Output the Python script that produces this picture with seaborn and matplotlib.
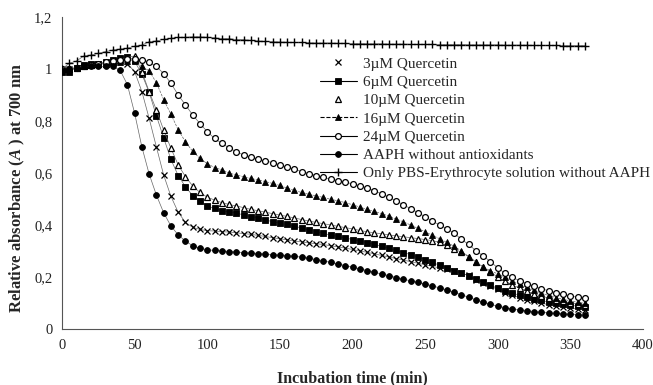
import numpy as np
import pandas as pd
import matplotlib
matplotlib.use("Agg")
import matplotlib.pyplot as plt
from matplotlib.lines import Line2D
import seaborn as sns

# ---------------- data ----------------
time_min = list(range(0, 361, 5))

aaph = [1.00, 1.00, 1.005, 1.01, 1.01, 1.01, 1.01, 1.01, 0.995, 0.94,
        0.83, 0.70, 0.596, 0.515, 0.447, 0.396, 0.362, 0.338, 0.32, 0.31,
        0.305, 0.302, 0.30, 0.298, 0.296, 0.294, 0.292, 0.29, 0.288, 0.286,
        0.284, 0.282, 0.28, 0.276, 0.272, 0.267, 0.262, 0.256, 0.25, 0.244,
        0.238, 0.231, 0.225, 0.218, 0.212, 0.205, 0.198, 0.192, 0.185, 0.179,
        0.173, 0.166, 0.158, 0.15, 0.141, 0.132, 0.122, 0.112, 0.103, 0.095,
        0.088, 0.082, 0.077, 0.073, 0.07, 0.067, 0.064, 0.062, 0.06, 0.058,
        0.056, 0.055, 0.054]

q3 = [1.00, 1.00, 1.005, 1.01, 1.015, 1.02, 1.02, 1.025, 1.03, 1.02,
      0.99, 0.913, 0.81, 0.70, 0.592, 0.51, 0.449, 0.41, 0.391, 0.383,
      0.378, 0.377, 0.374, 0.373, 0.37, 0.367, 0.364, 0.36, 0.356, 0.351,
      0.347, 0.343, 0.338, 0.335, 0.331, 0.328, 0.325, 0.32, 0.316, 0.311,
      0.306, 0.30, 0.295, 0.289, 0.283, 0.277, 0.271, 0.265, 0.259, 0.253,
      0.247, 0.241, 0.235, 0.229, 0.222, 0.214, 0.206, 0.19, 0.178, 0.165,
      0.152, 0.14, 0.13, 0.121, 0.113, 0.106, 0.099, 0.094, 0.089, 0.085,
      0.081, 0.078, 0.075]

q6 = [0.99, 0.99, 1.005, 1.015, 1.018, 1.02, 1.026, 1.035, 1.044, 1.048,
      1.03, 0.98, 0.91, 0.82, 0.735, 0.652, 0.59, 0.547, 0.513, 0.492,
      0.473, 0.464, 0.455, 0.451, 0.447, 0.438, 0.432, 0.428, 0.419, 0.413,
      0.406, 0.402, 0.396, 0.388, 0.381, 0.374, 0.368, 0.361, 0.356, 0.35,
      0.344, 0.338, 0.332, 0.325, 0.318, 0.31, 0.302, 0.294, 0.286, 0.277,
      0.267, 0.256, 0.245, 0.234, 0.224, 0.215, 0.205, 0.192, 0.18, 0.168,
      0.157, 0.147, 0.138, 0.13, 0.123, 0.116, 0.11, 0.104, 0.099, 0.095,
      0.091, 0.088, 0.085]

q10 = [1.00, 1.00, 1.005, 1.01, 1.015, 1.02, 1.025, 1.03, 1.035, 1.045,
       1.05, 0.99, 0.913, 0.842, 0.765, 0.695, 0.631, 0.586, 0.55, 0.525,
       0.507, 0.496, 0.486, 0.479, 0.473, 0.467, 0.46, 0.455, 0.449, 0.444,
       0.438, 0.433, 0.427, 0.421, 0.415, 0.41, 0.405, 0.40, 0.395, 0.39,
       0.385, 0.379, 0.374, 0.37, 0.366, 0.362, 0.358, 0.355, 0.351, 0.348,
       0.344, 0.34, 0.333, 0.322, 0.308, 0.295, 0.278, 0.258, 0.238, 0.218,
       0.20, 0.184, 0.17, 0.157, 0.146, 0.136, 0.127, 0.119, 0.112, 0.106,
       0.101, 0.097, 0.094]

q16 = [1.00, 1.00, 1.005, 1.01, 1.015, 1.02, 1.02, 1.025, 1.025, 1.03,
       1.035, 1.01, 0.993, 0.947, 0.882, 0.826, 0.766, 0.72, 0.683, 0.656,
       0.636, 0.621, 0.612, 0.60, 0.592, 0.586, 0.579, 0.573, 0.567, 0.56,
       0.552, 0.542, 0.533, 0.525, 0.518, 0.512, 0.506, 0.499, 0.493, 0.486,
       0.478, 0.469, 0.46, 0.452, 0.444, 0.434, 0.423, 0.412, 0.40, 0.387,
       0.374, 0.36, 0.347, 0.333, 0.318, 0.30, 0.278, 0.258, 0.238, 0.224,
       0.212, 0.199, 0.185, 0.172, 0.16, 0.149, 0.138, 0.129, 0.121, 0.114,
       0.108, 0.103, 0.099]

q24 = [1.00, 1.00, 1.005, 1.01, 1.015, 1.02, 1.025, 1.03, 1.035, 1.04,
       1.04, 1.035, 1.025, 1.01, 0.982, 0.945, 0.90, 0.862, 0.823, 0.79,
       0.759, 0.733, 0.714, 0.697, 0.682, 0.669, 0.66, 0.653, 0.646, 0.64,
       0.631, 0.622, 0.615, 0.605, 0.598, 0.59, 0.583, 0.576, 0.571, 0.565,
       0.558, 0.551, 0.543, 0.532, 0.52, 0.507, 0.493, 0.478, 0.463, 0.448,
       0.432, 0.415, 0.40, 0.386, 0.368, 0.345, 0.325, 0.301, 0.281, 0.259,
       0.235, 0.214, 0.199, 0.186, 0.175, 0.164, 0.155, 0.147, 0.14, 0.133,
       0.127, 0.122, 0.118]

pbs = [1.00, 1.022, 1.031, 1.05, 1.054, 1.06, 1.067, 1.073, 1.077, 1.08,
       1.088, 1.092, 1.105, 1.108, 1.114, 1.118, 1.122, 1.122, 1.124, 1.124,
       1.122, 1.12, 1.117, 1.117, 1.113, 1.113, 1.11, 1.108, 1.106, 1.105,
       1.104, 1.103, 1.102, 1.102, 1.101, 1.10, 1.10, 1.10, 1.099, 1.099,
       1.098, 1.098, 1.097, 1.097, 1.097, 1.096, 1.096, 1.096, 1.095, 1.095,
       1.095, 1.095, 1.094, 1.094, 1.094, 1.094, 1.093, 1.093, 1.093, 1.093,
       1.093, 1.092, 1.092, 1.092, 1.092, 1.091, 1.091, 1.091, 1.091, 1.09,
       1.09, 1.09, 1.09]

labels = ["3µM Quercetin", "6µM Quercetin", "10µM Quercetin", "16µM Quercetin",
          "24µM Quercetin", "AAPH without antioxidants",
          "Only PBS-Erythrocyte solution without AAPH"]
series = [q3, q6, q10, q16, q24, aaph, pbs]

x_ticks = [0, 50, 100, 150, 200, 250, 300, 350, 400]
y_ticks = [0, 0.2, 0.4, 0.6, 0.8, 1.0, 1.2]
y_tick_labels = ["0", "0,2", "0,4", "0,6", "0,8", "1", "1,2"]

# ---------------- styling ----------------
sns.set_theme(style="white")
plt.rcParams["font.family"] = ["Liberation Serif", "DejaVu Serif"]
plt.rcParams["mathtext.fontset"] = "custom"
plt.rcParams["mathtext.it"] = "Liberation Serif:italic:bold"
plt.rcParams["mathtext.rm"] = "Liberation Serif:bold"

styles = [
    dict(marker="x", mfc="black", mec="black", ms=4.5, mew=0.9, ls="-", leg_ls="none"),
    dict(marker="s", mfc="black", mec="black", ms=4.0, mew=0.6, ls="-", leg_ls="-"),
    dict(marker="^", mfc="white", mec="black", ms=4.5, mew=0.9, ls="-", leg_ls="none"),
    dict(marker="^", mfc="black", mec="black", ms=4.5, mew=0.6, ls="--", leg_ls="--"),
    dict(marker="o", mfc="white", mec="black", ms=4.2, mew=0.9, ls="-", leg_ls="-"),
    dict(marker="o", mfc="black", mec="black", ms=4.2, mew=0.6, ls="-", leg_ls="-"),
    dict(marker="+", mfc="black", mec="black", ms=5.5, mew=1.0, ls="-", leg_ls="-"),
]

fig = plt.figure(figsize=(6.53, 3.85), dpi=100)
ax = fig.add_axes([62 / 653, 1 - 329 / 385, (643 - 62) / 653, (329 - 17) / 385])

for vals, lab, st in zip(series, labels, styles):
    df = pd.DataFrame({"t": time_min, "A": vals})
    sns.lineplot(data=df, x="t", y="A", ax=ax, color="#666666", lw=0.5,
                 linestyle=st["ls"],
                 marker=st["marker"], markersize=st["ms"],
                 markerfacecolor=st["mfc"], markeredgecolor=st["mec"],
                 markeredgewidth=st["mew"], legend=False, zorder=3)

ax.set_xlim(0, 400)
ax.set_ylim(0, 1.2)
ax.set_xticks(x_ticks)
ax.set_xticklabels([str(v) for v in x_ticks])
ax.set_yticks(y_ticks)
ax.set_yticklabels(y_tick_labels)
ax.tick_params(axis="both", which="major", labelsize=10.5, length=4, width=0.8,
               direction="out", colors="#555555", labelcolor="#222222")
ax.tick_params(axis="y", pad=3)
ax.tick_params(axis="x", pad=3)
for s in ["top", "right"]:
    ax.spines[s].set_visible(False)
for s in ["left", "bottom"]:
    ax.spines[s].set_color("#555555")
    ax.spines[s].set_linewidth(0.8)

ax.set_xlabel("Incubation time (min)", fontsize=11.5, fontweight="bold")
ax.xaxis.set_label_coords(0.5, (329 - 378) / 312, transform=ax.transAxes)
ax.xaxis.label.set_va("center")
ax.set_ylabel("Relative absorbance ($A$ ) at 700 nm", fontsize=12,
              fontweight="bold")
ax.yaxis.set_label_coords((17 - 62) / 581, (329 - 188) / 312, transform=ax.transAxes)
ax.yaxis.label.set_va("center")

handles = []
for lab, st in zip(labels, styles):
    handles.append(Line2D([0], [0], color="black", lw=0.8, linestyle=st["leg_ls"],
                          marker=st["marker"], markersize=st["ms"],
                          markerfacecolor=st["mfc"], markeredgecolor=st["mec"],
                          markeredgewidth=st["mew"]))
leg = fig.legend(handles, labels, loc="upper left",
                 bbox_to_anchor=(314 / 653, 1 - 51 / 385), frameon=False,
                 fontsize=11, handlelength=2.4, handletextpad=0.4,
                 labelspacing=0.3, borderaxespad=0)

fig.savefig("out.png", dpi=100)
